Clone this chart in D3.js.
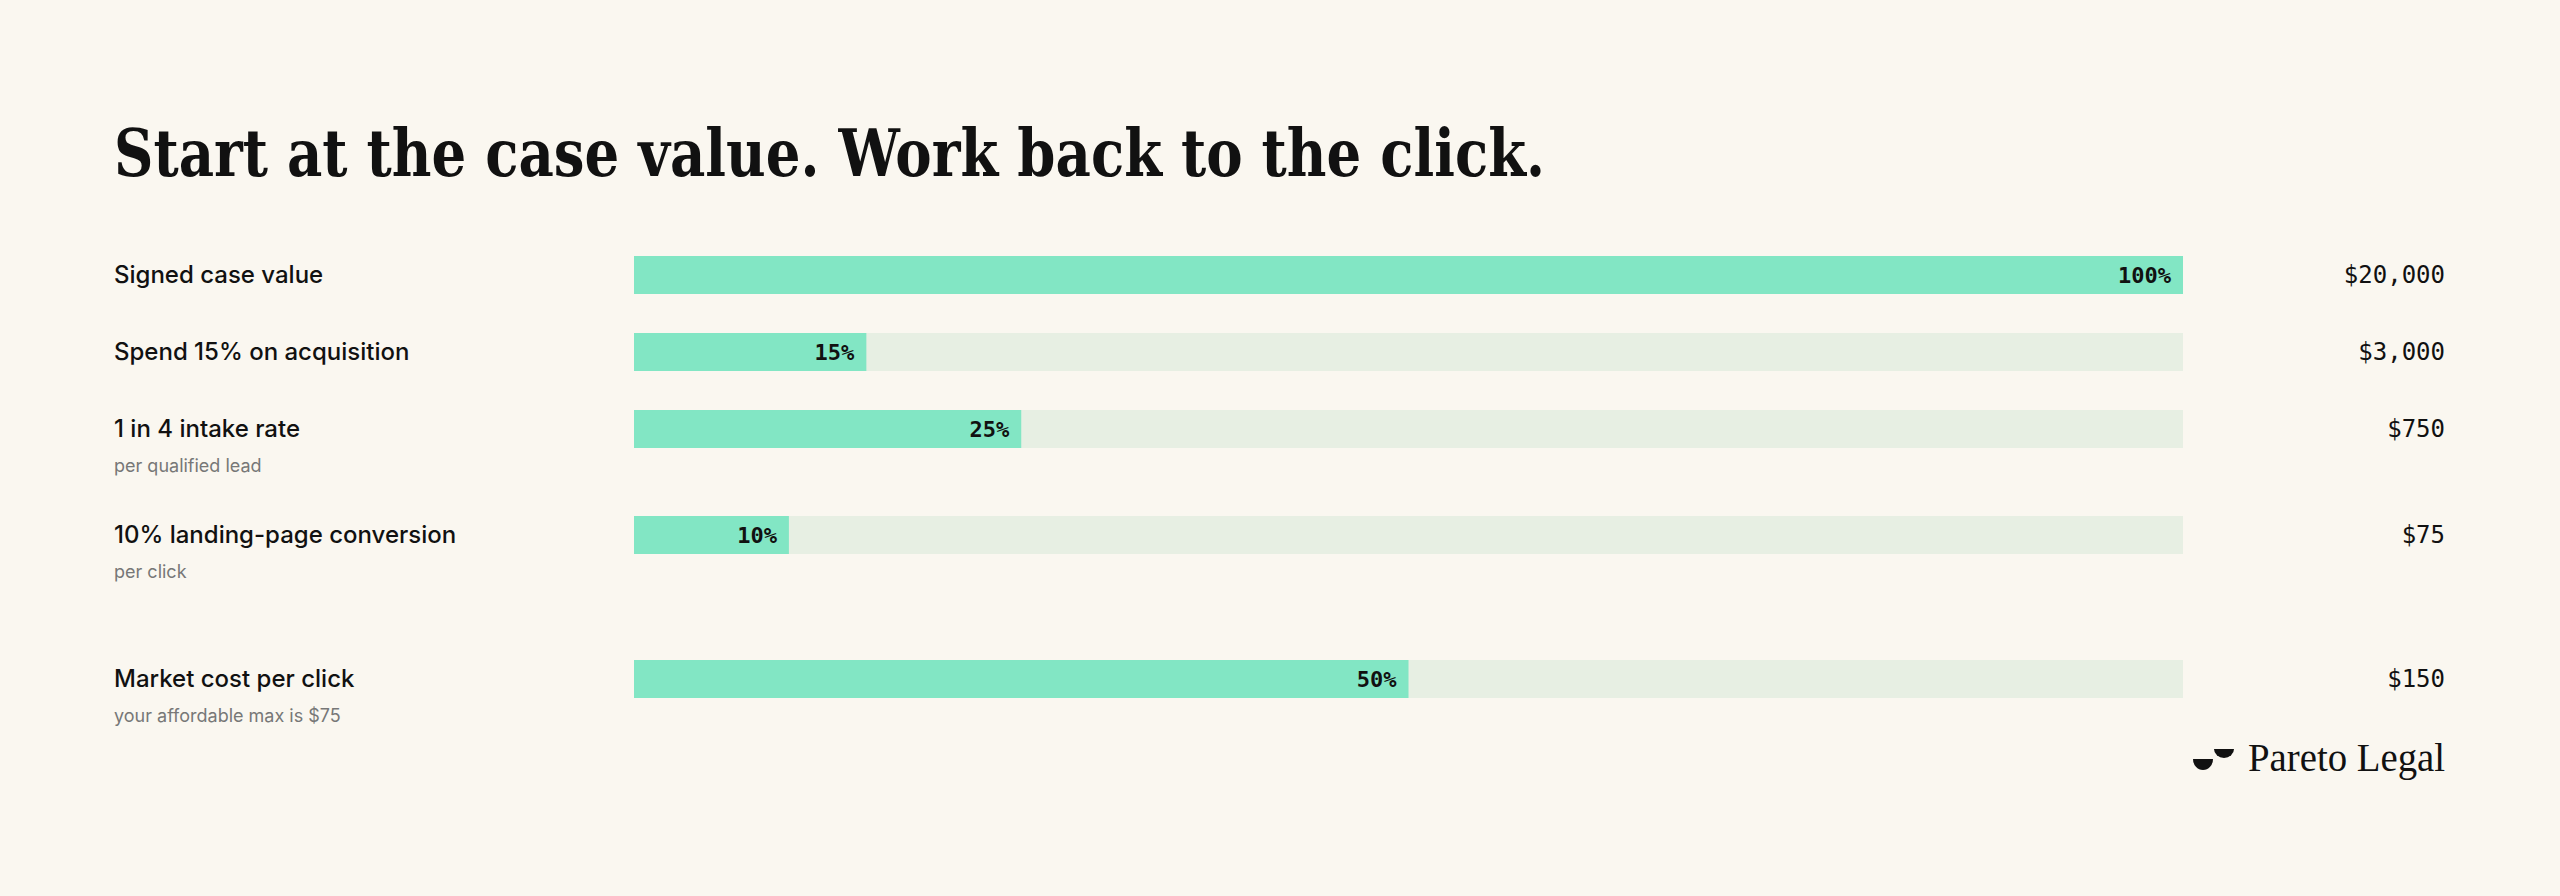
<!DOCTYPE html>
<html><head><meta charset="utf-8">
<script src="https://cdn.jsdelivr.net/npm/d3@7"></script>
<style>
body{margin:0;background:#faf7f0;}
</style></head>
<body><svg id="chart"></svg>
<script>
// Chart data
const labels = ["Signed case value", "Spend 15% on acquisition", "1 in 4 intake rate", "10% landing-page conversion", "Market cost per click"];
const subLabels = ["", "", "per qualified lead", "per click", "your affordable max is $75"];
const percents = [100, 15, 25, 10, 50];
const amounts = ["$20,000", "$3,000", "$750", "$75", "$150"];

const width = 2560, height = 896;
const svg = d3.select("#chart").attr("width", width).attr("height", height);

svg.append("rect").attr("width", width).attr("height", height).attr("fill", "#faf7f0");

svg.append("text")
  .attr("x", 114).attr("y", 176)
  .attr("font-family", "DejaVu Serif").attr("font-weight", "bold")
  .attr("font-size", 66).attr("fill", "#111")
  .attr("textLength", 1431).attr("lengthAdjust", "spacingAndGlyphs")
  .text("Start at the case value. Work back to the click.");

// row layout: base step, extra for sub label, extra gap before last row
const rowTops = [];
let y0 = 256;
labels.forEach((l, i) => {
  if (i > 0) {
    y0 += 77;
    if (subLabels[i - 1]) y0 += 29;
    if (i === labels.length - 1) y0 += 38;
  }
  rowTops.push(y0);
});

const x = d3.scaleLinear().domain([0, 100]).range([634, 2183]);
const barH = 38;

const rows = svg.selectAll("g.row")
  .data(labels.map((l, i) => ({ label: l, sub: subLabels[i], pct: percents[i], amt: amounts[i], top: rowTops[i] })))
  .enter().append("g").attr("class", "row")
  .attr("transform", d => `translate(0,${d.top})`);

rows.append("rect").attr("x", x(0)).attr("width", x(100) - x(0)).attr("height", barH).attr("fill", "#e7efe3");
rows.append("rect").attr("x", x(0)).attr("width", d => x(d.pct) - x(0)).attr("height", barH).attr("fill", "#82e6c4");

rows.append("text").attr("x", d => x(d.pct) - 12).attr("y", barH / 2 + 8)
  .attr("text-anchor", "end").attr("font-family", "DejaVu Sans Mono").attr("font-weight", "bold")
  .attr("font-size", 22).attr("fill", "#111")
  .text(d => d.pct + "%");

rows.append("text").attr("x", 114).attr("y", barH / 2 + 8)
  .attr("font-family", "Inter").attr("font-weight", 500).attr("font-size", 24).attr("fill", "#111")
  .text(d => d.label);

rows.append("text").attr("x", 114).attr("y", barH / 2 + 43)
  .attr("font-family", "Inter").attr("font-size", 18).attr("fill", "#777")
  .text(d => d.sub);

rows.append("text").attr("x", 2445).attr("y", barH / 2 + 8)
  .attr("text-anchor", "end").attr("font-family", "DejaVu Sans Mono").attr("font-size", 24).attr("fill", "#111")
  .text(d => d.amt);

// logo
const logo = svg.append("g");
logo.append("path").attr("d", "M2193,759 L2213,759 A10,11 0 0 1 2193,759 Z").attr("fill", "#111");
logo.append("path").attr("d", "M2214,749 L2234,749 A10,9 0 0 1 2214,749 Z").attr("fill", "#111");
logo.append("text").attr("x", 2248).attr("y", 771)
  .attr("font-family", "Liberation Serif").attr("font-size", 40).attr("fill", "#111")
  .attr("textLength", 197).attr("lengthAdjust", "spacingAndGlyphs")
  .text("Pareto Legal");
</script></body></html>
